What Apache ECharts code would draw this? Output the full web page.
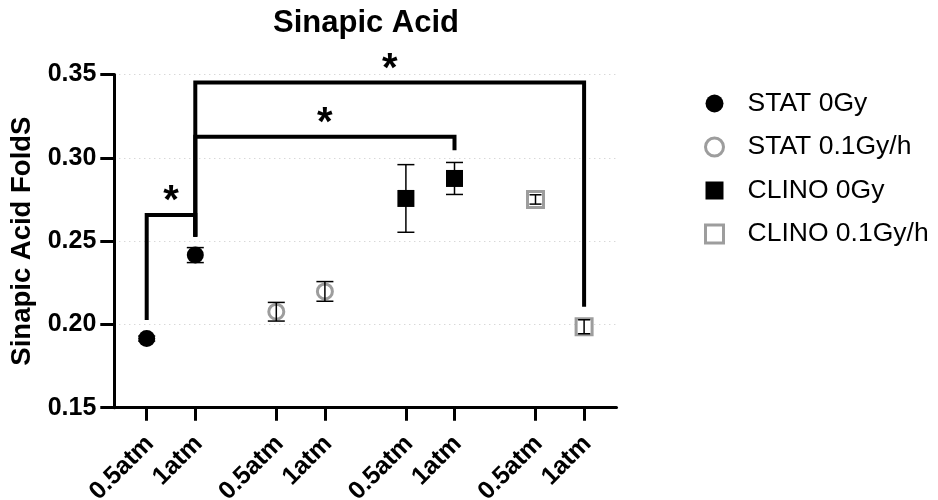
<!DOCTYPE html>
<html><head><meta charset="utf-8">
<script src="https://cdn.jsdelivr.net/npm/echarts@6/dist/echarts.min.js"></script>
<style>html,body{margin:0;padding:0;background:#fff}#c{width:938px;height:500px}</style>
</head><body><div id="c"></div>
<script>
// ---- data ----
const seriesNames = ['STAT 0Gy', 'STAT 0.1Gy/h', 'CLINO 0Gy', 'CLINO 0.1Gy/h'];
const pressureLabels = ['0.5atm', '1atm', '0.5atm', '1atm', '0.5atm', '1atm', '0.5atm', '1atm'];
const stat0Mean = [0.1915, 0.2416];
const stat0Err = [0.0015, 0.0045];
const stat01Mean = [0.2076, 0.2198];
const stat01Err = [0.0056, 0.0059];
const clino0Mean = [0.2756, 0.2876];
const clino0Err = [0.0203, 0.0096];
const clino01Mean = [0.2750, 0.1986];
const clino01Err = [0.0028, 0.0042];
const yTicks = [0.15, 0.20, 0.25, 0.30, 0.35];
// significance brackets: point indices (0..7) and y levels
const bracketFrom = [0, 1, 1];
const bracketTo = [1, 5, 7];
const bracketTop = [0.2656, 0.3126, 0.3452];
const bracketLeftEnd = [0.2026, 0.2526, 0.2526];
const bracketRightEnd = [0.2526, 0.3046, 0.2106];
const bracketLabel = ['*', '*', '*'];

// ---- layout (x slots: units of 1/3 point spacing) ----
const SLOT_COUNT = 32;
const pointSlot = [2, 5, 10, 13, 18, 21, 26, 29];
const slotLabels = Array(SLOT_COUNT).fill('');
pointSlot.forEach((s, i) => { slotLabels[s] = pressureLabels[i]; });

const means = [stat0Mean, stat01Mean, clino0Mean, clino01Mean];
const errs = [stat0Err, stat01Err, clino0Err, clino01Err];
const FONT = '"Liberation Sans", Arial, sans-serif';
const GREY = '#9d9d9d';
const symbols = ['circle', 'circle', 'rect', 'rect'];
const sizes = [17, 15, 17, 16];
const styles = [
  {color: '#000', opacity: 1},
  {color: '#fff', borderColor: GREY, borderWidth: 3, opacity: 1},
  {color: '#000', opacity: 1},
  {color: '#fff', borderColor: GREY, borderWidth: 3, opacity: 1}
];
const capWidths = [17, 17, 17, 12];

const scatterSeries = seriesNames.map((name, k) => ({
  name: name,
  type: 'scatter',
  symbol: symbols[k],
  symbolSize: sizes[k],
  itemStyle: styles[k],
  z: 3,
  data: means[k].map((m, j) => [pointSlot[k * 2 + j], m])
}));

const errData = [];
means.forEach((arr, k) => arr.forEach((m, j) => {
  errData.push([pointSlot[k * 2 + j], m, errs[k][j], k]);
}));

const errSeries = {
  type: 'custom',
  z: 5,
  silent: true,
  data: errData,
  renderItem: function (params, api) {
    const x = api.value(0), m = api.value(1), e = api.value(2), k = api.value(3);
    const top = api.coord([x, m + e]);
    const bot = api.coord([x, m - e]);
    const hw = capWidths[k] / 2;
    const st = {stroke: '#000', lineWidth: 1.5};
    return {type: 'group', children: [
      {type: 'line', shape: {x1: top[0], y1: top[1], x2: bot[0], y2: bot[1]}, style: st},
      {type: 'line', shape: {x1: top[0] - hw, y1: top[1], x2: top[0] + hw, y2: top[1]}, style: st},
      {type: 'line', shape: {x1: bot[0] - hw, y1: bot[1], x2: bot[0] + hw, y2: bot[1]}, style: st}
    ]};
  }
};

const bracketSeries = {
  type: 'custom',
  z: 4,
  silent: true,
  clip: false,
  data: bracketFrom.map((f, i) => [i]),
  renderItem: function (params, api) {
    const i = params.dataIndex;
    const xa = pointSlot[bracketFrom[i]], xb = pointSlot[bracketTo[i]];
    const p1 = api.coord([xa, bracketLeftEnd[i]]);
    const p2 = api.coord([xa, bracketTop[i]]);
    const p3 = api.coord([xb, bracketTop[i]]);
    const p4 = api.coord([xb, bracketRightEnd[i]]);
    return {type: 'group', children: [
      {type: 'polyline', shape: {points: [p1, p2, p3, p4]},
        style: {stroke: '#000', lineWidth: 4, fill: null, lineJoin: 'miter'}},
      {type: 'text', x: (p2[0] + p3[0]) / 2, y: p2[1] - 13,
        style: {text: bracketLabel[i], font: 'bold 40px ' + FONT, fill: '#000',
          align: 'center', verticalAlign: 'middle'}}
    ]};
  }
};

const legendData = seriesNames.map((n, k) => ({
  name: n,
  itemStyle: styles[k].borderWidth ? {color: '#fff', borderColor: GREY, borderWidth: 3} : {color: '#000'}
}));

const chart = echarts.init(document.getElementById('c'), null, {renderer: 'canvas'});
chart.setOption({
  animation: false,
  backgroundColor: '#fff',
  title: {
    text: 'Sinapic Acid', left: 361, top: 3, textAlign: 'center',
    textStyle: {fontFamily: FONT, fontSize: 31, fontWeight: 'bold', color: '#000'}
  },
  legend: {
    orient: 'vertical', left: 699, top: 85,
    itemWidth: 18, itemHeight: 18, itemGap: 16.5,
    data: legendData,
    textStyle: {fontFamily: FONT, fontSize: 26.5, color: '#000', lineHeight: 26, padding: [0, 0, 0, 19]}
  },
  grid: {left: 114.3, right: 321.5, top: 74.5, bottom: 92.3, containLabel: false, outerBoundsMode: 'none'},
  xAxis: {
    type: 'category', data: slotLabels, boundaryGap: false,
    axisLine: {onZero: false, lineStyle: {color: '#000', width: 3}},
    axisTick: {show: true, length: 13, interval: (idx, v) => v !== '', lineStyle: {color: '#000', width: 3}},
    axisLabel: {interval: (idx, v) => v !== '', rotate: 45, margin: 29,
      formatter: v => '{a|' + v + '}',
      rich: {a: {padding: [9, 0, 0, 0], fontFamily: FONT, fontSize: 25, fontWeight: 'bold', color: '#000'}},
      fontFamily: FONT, fontSize: 25, fontWeight: 'bold', color: '#000'},
    splitLine: {show: false}
  },
  yAxis: {
    type: 'value', min: yTicks[0], max: yTicks[yTicks.length - 1], interval: 0.05,
    name: 'Sinapic Acid FoldS', nameLocation: 'middle', nameGap: 76,
    nameTextStyle: {fontFamily: FONT, fontSize: 27.5, fontWeight: 'bold', color: '#000'},
    axisLine: {show: true, lineStyle: {color: '#000', width: 3}},
    axisTick: {show: true, length: 14, lineStyle: {color: '#000', width: 3}},
    axisLabel: {formatter: v => v.toFixed(2), margin: 18,
      fontFamily: FONT, fontSize: 25, fontWeight: 'bold', color: '#000'},
    splitLine: {show: true, lineStyle: {color: '#c8c8c8', width: 1, type: [1, 4]}}
  },
  series: scatterSeries.concat([errSeries, bracketSeries])
});
</script>
</body></html>
